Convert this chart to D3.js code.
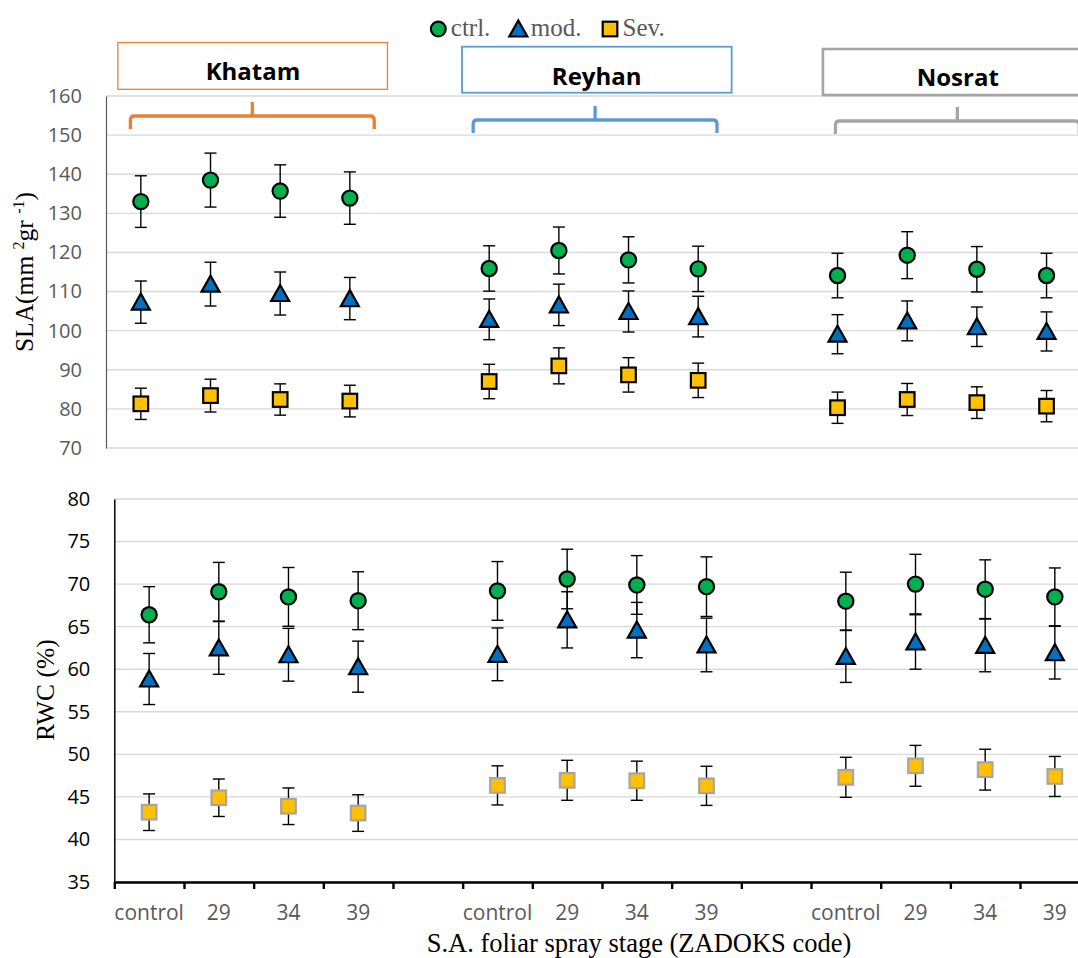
<!DOCTYPE html>
<html>
<head>
<meta charset="utf-8">
<script src="https://cdn.jsdelivr.net/npm/d3@7"></script>
<style>
  html, body { margin: 0; padding: 0; background: #fff; }
  svg { display: block; }
</style>
</head>
<body>
<svg id="chart" width="1078" height="958"></svg>
<script>
// ---------------- DATA ----------------
const cultivars = ["Khatam", "Reyhan", "Nosrat"];
const stages = ["control", "29", "34", "39"];
const seriesNames = ["ctrl.", "mod.", "Sev."];

// SLA (mm2 gr-1): order = Khatam(control,29,34,39), Reyhan(...), Nosrat(...)
const slaCtrl    = [133.0, 138.5, 135.7, 133.9, 115.9, 120.5, 118.1, 115.8, 114.1, 119.3, 115.7, 114.1];
const slaCtrlErr = [6.6, 6.9, 6.7, 6.7, 5.8, 6.0, 5.9, 5.8, 5.7, 6.0, 5.8, 5.7];
const slaMod     = [107.3, 111.9, 109.5, 108.2, 102.9, 106.6, 104.9, 103.6, 99.1, 102.5, 101.0, 99.8];
const slaModErr  = [5.4, 5.6, 5.5, 5.4, 5.2, 5.3, 5.25, 5.2, 5.0, 5.1, 5.05, 5.0];
const slaSev     = [81.3, 83.4, 82.4, 82.0, 87.0, 91.0, 88.7, 87.3, 80.3, 82.4, 81.6, 80.7];
const slaSevErr  = [4.0, 4.2, 4.0, 4.05, 4.4, 4.6, 4.4, 4.4, 4.0, 4.1, 4.05, 4.0];

// RWC (%)
const rwcCtrl    = [66.4, 69.1, 68.5, 68.05, 69.2, 70.6, 69.9, 69.7, 68.0, 70.0, 69.4, 68.5];
const rwcCtrlErr = [3.3, 3.45, 3.45, 3.4, 3.45, 3.5, 3.45, 3.5, 3.4, 3.5, 3.45, 3.4];
const rwcMod     = [58.85, 62.5, 61.7, 60.3, 61.75, 65.8, 64.6, 62.85, 61.5, 63.2, 62.8, 61.95];
const rwcModErr  = [3.0, 3.1, 3.1, 3.0, 3.1, 3.3, 3.25, 3.15, 3.05, 3.2, 3.1, 3.1];
const rwcSev     = [43.2, 44.9, 43.9, 43.1, 46.35, 46.95, 46.9, 46.3, 47.3, 48.65, 48.2, 47.4];
const rwcSevErr  = [2.15, 2.2, 2.15, 2.15, 2.3, 2.35, 2.3, 2.3, 2.35, 2.4, 2.4, 2.35];

const slaTicks = [70, 80, 90, 100, 110, 120, 130, 140, 150, 160];
const rwcTicks = [35, 40, 45, 50, 55, 60, 65, 70, 75, 80];

// ---------------- LAYOUT ----------------
const svg = d3.select("#chart");
const nSlots = 14;          // 3 groups x 4 stages + 2 empty gap slots
const bandW = 69.67;
const slotOf = i => Math.floor(i / 4) * 5 + (i % 4);

const xTop = d3.scaleBand().domain(d3.range(nSlots)).range([106, 106 + nSlots * bandW]).paddingInner(0).paddingOuter(0);
const xBot = d3.scaleBand().domain(d3.range(nSlots)).range([114.3, 114.3 + nSlots * bandW]).paddingInner(0).paddingOuter(0);
const xBotLin = d3.scaleLinear().domain([0, nSlots]).range([114.3, 114.3 + nSlots * bandW]);
const xTopLin = d3.scaleLinear().domain([0, nSlots]).range([106, 106 + nSlots * bandW]);

const yTop = d3.scaleLinear().domain([70, 160]).range([448, 96]);
const yBot = d3.scaleLinear().domain([35, 80]).range([882, 499]);

const colors = { ctrl: "#00B050", mod: "#0070C0", sev: "#FFC000" };
const GRID = "#D9D9D9";
const sansFont = "'Open Sans', 'Noto Sans', sans-serif";
const serifFont = "'Liberation Serif', 'Times New Roman', serif";

// ---------------- GRIDLINES ----------------
function grid(y, ticks, x0) {
  svg.append("g").selectAll("line").data(ticks).join("line")
    .attr("x1", x0).attr("x2", 1078)
    .attr("y1", d => y(d)).attr("y2", d => y(d))
    .attr("stroke", GRID).attr("stroke-width", 1.4);
}
grid(yTop, slaTicks, 106);
grid(yBot, rwcTicks, 114.3);

// ---------------- Y AXES ----------------
const axTop = svg.append("g").attr("transform", "translate(106,0)")
  .call(d3.axisLeft(yTop).tickValues(slaTicks).tickSize(0).tickPadding(24));
axTop.select(".domain").attr("stroke", "#595959").attr("stroke-width", 1.2);
axTop.selectAll("text").attr("font-family", sansFont).attr("font-size", 20).attr("fill", "#595959");

const axBot = svg.append("g").attr("transform", "translate(114.3,0)")
  .call(d3.axisLeft(yBot).tickValues(rwcTicks).tickSize(0).tickPadding(24));
axBot.select(".domain").attr("stroke", "#000").attr("stroke-width", 1.5);
axBot.selectAll("text").attr("font-family", sansFont).attr("font-size", 20).attr("fill", "#000");

// ---------------- X AXIS (bottom) ----------------
const axX = svg.append("g").attr("transform", "translate(0,882)")
  .call(d3.axisBottom(xBotLin).tickValues(d3.range(nSlots + 1)).tickFormat("").tickSize(7).tickSizeOuter(0));
axX.select(".domain").attr("stroke", "#000").attr("stroke-width", 2.4);
axX.selectAll(".tick line").attr("stroke", "#000").attr("stroke-width", 2.4);

const catLabels = [];
cultivars.forEach((c, ci) => stages.forEach((s, si) => catLabels.push({ slot: ci * 5 + si, label: s })));
svg.append("g").selectAll("text").data(catLabels).join("text")
  .attr("x", d => xBot(d.slot) + xBot.bandwidth() / 2)
  .attr("y", 920)
  .attr("text-anchor", "middle")
  .attr("font-family", sansFont).attr("font-size", 21).attr("fill", "#595959")
  .text(d => d.label);

svg.append("text").attr("x", 639).attr("y", 952).attr("text-anchor", "middle")
  .attr("font-family", serifFont).attr("font-size", 26.5).attr("fill", "#000")
  .text("S.A. foliar spray stage (ZADOKS code)");

// ---------------- Y TITLES ----------------
const slaTitle = svg.append("text")
  .attr("transform", "translate(33,272) rotate(-90)")
  .attr("text-anchor", "middle")
  .attr("font-family", serifFont).attr("font-size", 25.5).attr("fill", "#000");
slaTitle.append("tspan").text("SLA(mm ");
slaTitle.append("tspan").attr("dy", -9).attr("font-size", 16).text("2");
slaTitle.append("tspan").attr("dy", 9).text("gr ");
slaTitle.append("tspan").attr("dy", -9).attr("font-size", 16).text("-1");
slaTitle.append("tspan").attr("dy", 9).text(")");

svg.append("text")
  .attr("transform", "translate(54,690) rotate(-90)")
  .attr("text-anchor", "middle")
  .attr("font-family", serifFont).attr("font-size", 25.5).attr("fill", "#000")
  .text("RWC (%)");

// ---------------- MARKERS ----------------
const triPath = "M0,-8.5L9,7.5L-9,7.5Z";
function drawSeries(x, y, vals, errs, kind, stroke) {
  const data = vals.map((v, i) => ({ slot: slotOf(i), v, e: errs[i] }));
  const cx = d => x(d.slot) + x.bandwidth() / 2;
  const g = svg.append("g");
  // error bars
  const eb = g.append("g").attr("stroke", "#000").attr("stroke-width", 1.4);
  eb.selectAll("line.v").data(data).join("line").attr("class", "v")
    .attr("x1", cx).attr("x2", cx).attr("y1", d => y(d.v + d.e)).attr("y2", d => y(d.v - d.e));
  eb.selectAll("line.t").data(data).join("line").attr("class", "t")
    .attr("x1", d => cx(d) - 6).attr("x2", d => cx(d) + 6).attr("y1", d => y(d.v + d.e)).attr("y2", d => y(d.v + d.e));
  eb.selectAll("line.b").data(data).join("line").attr("class", "b")
    .attr("x1", d => cx(d) - 6).attr("x2", d => cx(d) + 6).attr("y1", d => y(d.v - d.e)).attr("y2", d => y(d.v - d.e));
  // marker
  if (kind === "circle") {
    g.selectAll("circle").data(data).join("circle")
      .attr("cx", cx).attr("cy", d => y(d.v)).attr("r", 7.6)
      .attr("fill", colors.ctrl).attr("stroke", stroke).attr("stroke-width", 2.2);
  } else if (kind === "tri") {
    g.selectAll("path").data(data).join("path")
      .attr("d", triPath).attr("transform", d => `translate(${cx(d)},${y(d.v)})`)
      .attr("fill", colors.mod).attr("stroke", stroke).attr("stroke-width", 2.2).attr("stroke-linejoin", "miter");
  } else {
    g.selectAll("rect").data(data).join("rect")
      .attr("x", d => cx(d) - 7.3).attr("y", d => y(d.v) - 7.3).attr("width", 14.6).attr("height", 14.6)
      .attr("fill", colors.sev).attr("stroke", stroke).attr("stroke-width", 2.2);
  }
}
drawSeries(xTop, yTop, slaSev, slaSevErr, "square", "#000");
drawSeries(xTop, yTop, slaMod, slaModErr, "tri", "#000");
drawSeries(xTop, yTop, slaCtrl, slaCtrlErr, "circle", "#000");
drawSeries(xBot, yBot, rwcSev, rwcSevErr, "square", "#A5A5A5");
drawSeries(xBot, yBot, rwcMod, rwcModErr, "tri", "#000");
drawSeries(xBot, yBot, rwcCtrl, rwcCtrlErr, "circle", "#000");

// ---------------- CULTIVAR LABEL BOXES & BRACES ----------------
// positions in slot units along the top panel's x scale
const boxStart = [0.17, 5.11, 10.29];
const boxEnd   = [4.04, 8.98, 14.2];
const boxTop   = [42.5, 46.7, 49];
const boxBot   = [89.3, 92.7, 95];
const boxColor = ["#ED7D31", "#5B9BD5", "#A5A5A5"];
const boxStroke = [1.3, 1.8, 2.6];
const labelX   = [253, 596.7, 957.8];
const labelY   = [79.5, 85, 86];
const braceStart = [0.35, 5.27, 10.47];
const braceMid   = [2.10, 7.02, 12.22];
const braceEnd   = [3.85, 8.77, 13.97];
const braceY     = [116, 120, 121];

cultivars.forEach((c, i) => {
  const x0 = xTopLin(boxStart[i]), x1 = xTopLin(boxEnd[i]);
  svg.append("rect").attr("x", x0).attr("y", boxTop[i]).attr("width", x1 - x0).attr("height", boxBot[i] - boxTop[i])
    .attr("fill", "#fff").attr("stroke", boxColor[i]).attr("stroke-width", boxStroke[i]);
  svg.append("text").attr("x", labelX[i]).attr("y", labelY[i]).attr("text-anchor", "middle")
    .attr("font-family", sansFont).attr("font-weight", "bold").attr("font-size", 24).attr("fill", "#000")
    .text(c);
  const bx0 = xTopLin(braceStart[i]), bx1 = xTopLin(braceEnd[i]), bm = xTopLin(braceMid[i]);
  const by = braceY[i], r = 4, drop = 13;
  const p = d3.path();
  p.moveTo(bx0, by + drop);
  p.lineTo(bx0, by + r);
  p.quadraticCurveTo(bx0, by, bx0 + r, by);
  p.lineTo(bm, by);
  p.lineTo(bm, by - 14);
  p.moveTo(bm, by);
  p.lineTo(bx1 - r, by);
  p.quadraticCurveTo(bx1, by, bx1, by + r);
  p.lineTo(bx1, by + drop);
  svg.append("path").attr("d", p.toString()).attr("fill", "none")
    .attr("stroke", boxColor[i]).attr("stroke-width", 3.3);
});

// ---------------- LEGEND ----------------
const legX = [438.3, 518.3, 610];
const legY = 29;
const lg = svg.append("g");
lg.append("circle").attr("cx", legX[0]).attr("cy", legY).attr("r", 7.4)
  .attr("fill", colors.ctrl).attr("stroke", "#000").attr("stroke-width", 2.2);
lg.append("path").attr("d", triPath).attr("transform", `translate(${legX[1]},${legY})`)
  .attr("fill", colors.mod).attr("stroke", "#000").attr("stroke-width", 2.2);
lg.append("rect").attr("x", legX[2] - 7.3).attr("y", legY - 7.3).attr("width", 14.6).attr("height", 14.6)
  .attr("fill", colors.sev).attr("stroke", "#000").attr("stroke-width", 2.2);
lg.selectAll("text").data(seriesNames).join("text")
  .attr("x", (d, i) => legX[i] + 12.5).attr("y", 36)
  .attr("font-family", serifFont).attr("font-size", 25).attr("fill", "#595959")
  .text(d => d);
</script>
</body>
</html>
